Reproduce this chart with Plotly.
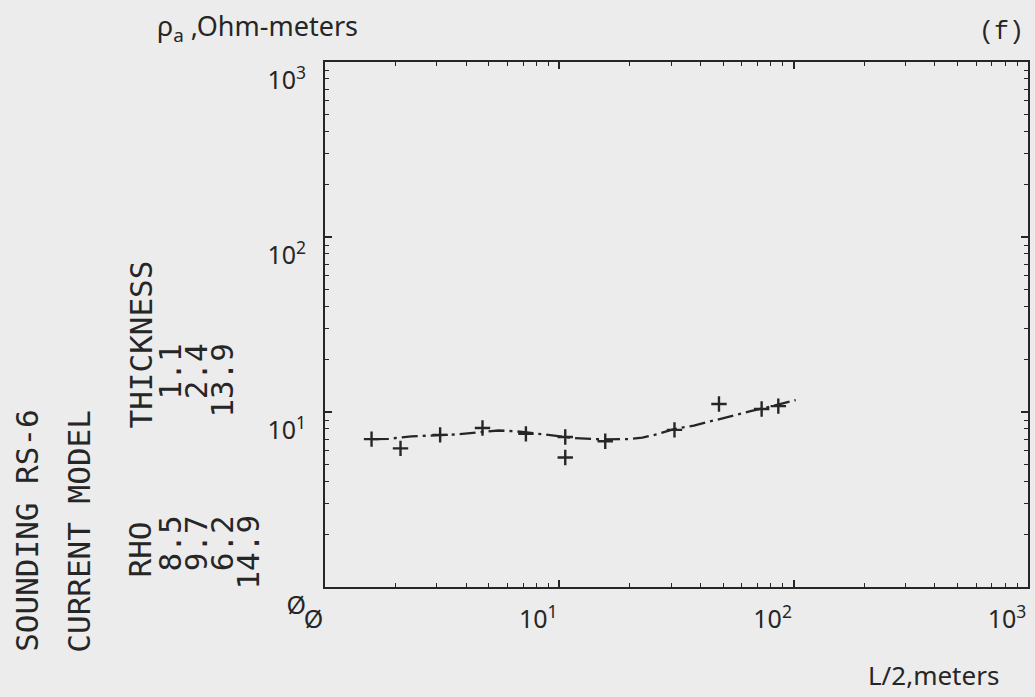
import plotly.graph_objects as go

# ---- data ----
x_obs = [1.58, 2.1, 3.1, 4.7, 7.2, 10.6, 10.6, 15.7, 31, 48, 73, 86]
y_obs = [7.0, 6.2, 7.4, 8.1, 7.5, 7.2, 5.5, 6.8, 7.9, 11.1, 10.4, 10.8]

x_mod = [1.6, 1.87, 2.34, 3.7, 5.5, 6.5, 8.7, 11.4, 15.3, 19.5, 22.6, 26.1,
         31.1, 37.5, 42.2, 46.5, 51.8, 58.2, 65.5, 78.8, 102]
y_mod = [7.0, 7.03, 7.26, 7.45, 7.84, 7.76, 7.43, 7.1, 6.97, 7.0, 7.14, 7.46,
         8.0, 8.37, 8.71, 9.0, 9.35, 9.8, 10.1, 10.7, 11.7]

tick_vals = [1, 10, 100, 1000]
x_tick_text = ["Ø", "10<sup>1</sup>", "10<sup>2</sup>", "10<sup>3</sup>"]
y_tick_text = ["Ø", "10<sup>1</sup>", "10<sup>2</sup>", "10<sup>3</sup>"]
minor_vals = [m * d for d in (1, 10, 100) for m in range(2, 10)]

rho_vals = ["8.5", "9.7", "6.2", "14.9"]
thick_vals = ["1.1", "2.4", "13.9"]

W, H = 1035, 697
L, R, T, B = 325, 5, 62, 110
PW, PH = W - L - R, H - T - B
INK = "#262626"
BG = "#ececec"


def px(x):
    return (x - L) / PW


def py(y):
    return (H - B - y) / PH


fig = go.Figure()
fig.add_trace(go.Scatter(
    x=x_mod, y=y_mod, mode="lines",
    line=dict(color=INK, width=2.3, dash="16px,5px,3px,5px"),
    hoverinfo="skip", showlegend=False))
fig.add_trace(go.Scatter(
    x=x_obs, y=y_obs, mode="markers",
    marker=dict(symbol="cross-thin", size=11, line=dict(color=INK, width=2.4)),
    showlegend=False))

axis_common = dict(
    type="log", range=[0, 3], showline=True, linecolor=INK, linewidth=2,
    mirror="ticks", ticks="inside", ticklen=7, tickwidth=1.5, tickcolor=INK,
    tickvals=tick_vals, showgrid=False, zeroline=False,
    tickfont=dict(family="Noto Sans", size=25, color=INK),
    minor=dict(ticks="inside", ticklen=4, tickwidth=1.3, tickcolor=INK,
               tickvals=minor_vals, showgrid=False),
)

fig.update_xaxes(**axis_common, ticktext=x_tick_text,
                 ticklabelposition="outside left", ticklabelstandoff=9)
fig.update_yaxes(**axis_common, ticktext=y_tick_text,
                 ticklabelposition="outside bottom", ticklabelstandoff=12)

ann = []
sans = dict(family="Noto Sans", size=27, color=INK)
mono = dict(family="DejaVu Sans Mono", size=31, color=INK)

ann.append(dict(text="ρ<sub>a</sub> ,Ohm-meters", x=px(155), y=py(27),
                xanchor="left", yanchor="middle", font=sans))
ann.append(dict(text="L/2,meters", x=px(868), y=py(675),
                xanchor="left", yanchor="middle", font=dict(family="Noto Sans", size=26, color=INK)))
ann.append(dict(text="(f)", x=px(1003), y=py(33), xanchor="center",
                yanchor="middle", font=dict(family="Liberation Mono", size=25, color=INK)))

ann.append(dict(text="SOUNDING RS-6", x=px(26), y=py(530), textangle=-90,
                xanchor="center", yanchor="middle", font=mono))
ann.append(dict(text="CURRENT MODEL", x=px(78), y=py(531), textangle=-90,
                xanchor="center", yanchor="middle", font=mono))
ann.append(dict(text="RHO", x=px(139), y=py(550), textangle=-90,
                xanchor="center", yanchor="middle", font=mono))
ann.append(dict(text="THICKNESS", x=px(140), y=py(345), textangle=-90,
                xanchor="center", yanchor="middle", font=mono))

rho_x = [170, 196, 222, 248]
for v, xx in zip(rho_vals, rho_x):
    ln = len(v) * 0.602 * 31
    ann.append(dict(text=v, x=px(xx), y=py(515 + ln / 2), textangle=-90,
                    xanchor="center", yanchor="middle", font=mono))
thick_x = [170, 196, 222]
for v, xx in zip(thick_vals, thick_x):
    ln = len(v) * 0.602 * 31
    ann.append(dict(text=v, x=px(xx), y=py(343 + ln / 2), textangle=-90,
                    xanchor="center", yanchor="middle", font=mono))

for a in ann:
    a.update(xref="paper", yref="paper", showarrow=False)

fig.update_layout(
    width=W, height=H, margin=dict(l=L, r=R, t=T, b=B),
    paper_bgcolor=BG, plot_bgcolor=BG, annotations=ann, showlegend=False)

fig.write_html(
    "out.html",
    config={"displayModeBar": False},
    post_script="document.body.style.margin='0';document.body.style.overflow='hidden';document.body.style.background='" + BG + "';")
